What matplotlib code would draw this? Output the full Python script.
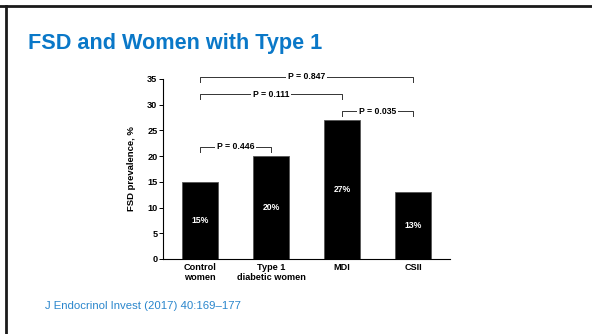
import matplotlib.pyplot as plt
from matplotlib.lines import Line2D

plt.rcParams['font.family'] = ['Liberation Sans', 'DejaVu Sans']

groups = ['Control\nwomen', 'Type 1\ndiabetic women', 'MDI', 'CSII']
prevalence = [15, 20, 27, 13]
bar_labels = ['15%', '20%', '27%', '13%']
yticks = [0, 5, 10, 15, 20, 25, 30, 35]

# (left group, right group, bracket height, label)
comparisons = [
    (0, 1, 21.8, 'P = 0.446'),
    (2, 3, 28.7, 'P = 0.035'),
    (0, 2, 32.0, 'P = 0.111'),
    (0, 3, 35.4, 'P = 0.847'),
]

fig = plt.figure(figsize=(5.92, 3.34), dpi=100)

# slide frame (top and left rule)
fig.add_artist(Line2D([0, 1], [1 - 6/334, 1 - 6/334], color='#1a1a1a', lw=2))
fig.add_artist(Line2D([6/592, 6/592], [0, 1 - 6/334], color='#1a1a1a', lw=2))

fig.text(28/592, 1 - 49/334, 'FSD and Women with Type 1', fontsize=15.6,
         fontweight='bold', color='#0a78c8', ha='left', va='baseline')
fig.text(45/592, 1 - 309/334, 'J Endocrinol Invest (2017) 40:169\u2013177',
         fontsize=8.2, color='#2a86cc', ha='left', va='baseline')

ax = fig.add_axes([163/592, 1 - 259/334, (450 - 163)/592, 180/334])
x = range(len(groups))
ax.bar(x, prevalence, width=0.5, color='black', edgecolor='#555555', linewidth=0.6)
for xi, v, lab in zip(x, prevalence, bar_labels):
    ax.text(xi, v / 2, lab, color='white', fontsize=6.2, fontweight='bold',
            ha='center', va='center')

ax.set_xlim(-0.52, 3.52)
ax.set_ylim(0, 35)
ax.set_yticks(yticks)
ax.set_xticks(list(x))
ax.set_xticklabels(groups, fontsize=6.6, fontweight='bold', linespacing=1.15)
ax.tick_params(axis='x', length=0, pad=3)
ax.tick_params(axis='y', length=3, width=0.7, labelsize=6.6, pad=1)
for t in ax.get_yticklabels():
    t.set_fontweight('bold')
ax.spines['top'].set_visible(False)
ax.spines['right'].set_visible(False)
ax.spines['left'].set_linewidth(0.8)
ax.spines['bottom'].set_linewidth(0.8)
ax.set_ylabel('FSD prevalence, %', fontsize=6.8, fontweight='bold', labelpad=8)

for a, b, h, lab in comparisons:
    ax.plot([a, a, b, b], [h - 0.9, h, h, h - 0.9], color='#333333', lw=0.7,
            clip_on=False)
    ax.text((a + b) / 2, h, lab, fontsize=6.2, fontweight='bold', ha='center',
            va='center', clip_on=False,
            bbox=dict(facecolor='white', edgecolor='none', pad=1.5))

fig.savefig('out.png', dpi=100)
